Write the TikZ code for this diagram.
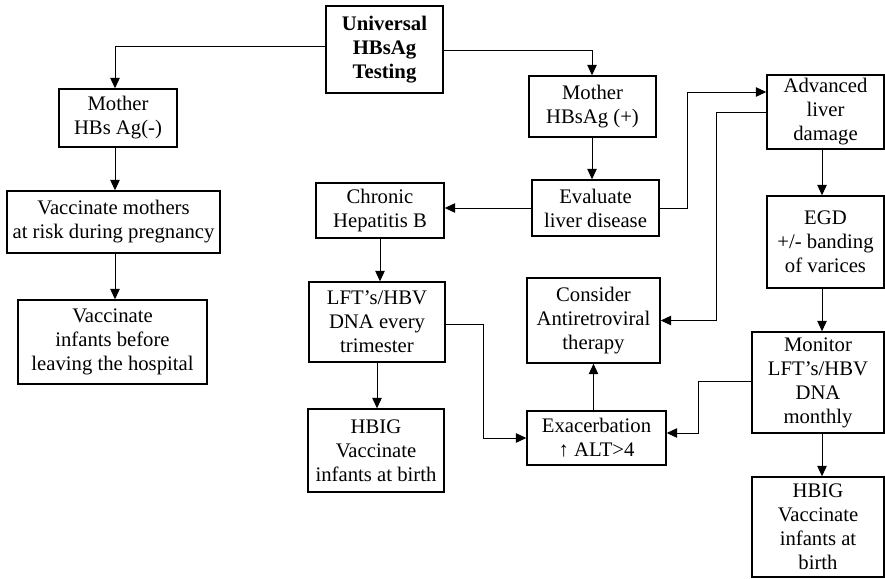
\documentclass[tikz,border=0pt]{standalone}
\usepackage{fontspec}
\setmainfont{Liberation Serif}
\usetikzlibrary{arrows.meta}
\begin{document}
\begin{tikzpicture}[x=1pt,y=-1pt,
  box/.style={draw,line width=1.4pt,align=center,inner sep=0pt,
    font=\fontsize{20.7}{24}\selectfont},
  conn/.style={line width=1pt,-{Triangle[length=10.5pt,width=9.5pt]}}]
\useasboundingbox (0,0) rectangle (885,578);
% boxes
\node[box,minimum width=117pt,minimum height=87pt] (univ) at (384.5,49.5) {\bfseries Universal\\\bfseries HBsAg\\\bfseries Testing};
\node[box,minimum width=118pt,minimum height=58pt] (mneg) at (118,118) {Mother\\HBs Ag(-)};
\node[box,minimum width=213pt,minimum height=62pt] (vacm) at (113.5,222) {Vaccinate mothers\\at risk during pregnancy};
\node[box,minimum width=189pt,minimum height=84pt] (vaci) at (112.5,342) {Vaccinate\\infants before\\leaving the hospital};
\node[box,minimum width=127pt,minimum height=61pt] (mpos) at (592.5,106.5) {Mother\\HBsAg (+)};
\node[box,minimum width=127pt,minimum height=56pt] (eval) at (595.5,208) {Evaluate\\liver disease};
\node[box,minimum width=128pt,minimum height=55pt] (chron) at (380,210.5) {Chronic\\Hepatitis B};
\node[box,minimum width=136pt,minimum height=80pt] (lft) at (377,322) {LFT’s/HBV\\DNA every\\trimester};
\node[box,minimum width=136pt,minimum height=83pt] (hbiga) at (376,450.5) {HBIG\\Vaccinate\\infants at birth};
\node[box,minimum width=133pt,minimum height=85pt] (cons) at (593.5,320.5) {Consider\\Antiretroviral\\therapy};
\node[box,minimum width=139pt,minimum height=54pt] (exac) at (596.5,438) {Exacerbation\\↑ ALT>4};
\node[box,minimum width=117pt,minimum height=74pt] (adv) at (825.5,112) {Advanced\\liver\\damage};
\node[box,minimum width=117pt,minimum height=92pt] (egd) at (825.5,242) {EGD\\+/- banding\\of varices};
\node[box,minimum width=132pt,minimum height=101pt] (mon) at (818,382.5) {Monitor\\LFT’s/HBV\\DNA\\monthly};
\node[box,minimum width=132pt,minimum height=100pt] (hbigb) at (818,527) {HBIG\\Vaccinate\\infants at\\birth};
% helper coordinates
\coordinate (cL) at (115,47);
\coordinate (cR) at (592,51);
\coordinate (cE) at (687,92);
\coordinate (cA) at (716,112);
\coordinate (cX) at (483,324);
\coordinate (cM) at (698,381);
\coordinate (cV) at (822,0);
% connectors
\draw[conn] (univ.west |- cL) -| (mneg.north -| cL);
\draw[conn] (mneg.south -| cL) -- (vacm.north -| cL);
\draw[conn] (vacm.south -| cL) -- (vaci.north -| cL);
\draw[conn] (univ.east |- cR) -| (mpos.north -| cR);
\draw[conn] (mpos.south -| cR) -- (eval.north -| cR);
\draw[conn] (eval.west) -- (chron.east |- eval.west);
\draw[conn] (eval.east) -| (cE) -- (adv.west |- cE);
\draw[conn] (adv.west) -- (adv.west -| cA) |- (cons.east);
\draw[conn] (adv.south -| cV) -- (egd.north -| cV);
\draw[conn] (egd.south -| cV) -- (mon.north -| cV);
\draw[conn] (mon.south -| cV) -- (hbigb.north -| cV);
\draw[conn] (chron.south) -- (lft.north -| chron.south);
\draw[conn] (lft.south) -- (hbiga.north -| lft.south);
\draw[conn] (lft.east |- cX) -- (cX) |- (exac.west);
\draw[conn] (exac.north -| cons.south) -- (cons.south);
\draw[conn] (mon.west |- cM) -- (cM) |- ([yshift=5pt]exac.east);
\end{tikzpicture}
\end{document}
